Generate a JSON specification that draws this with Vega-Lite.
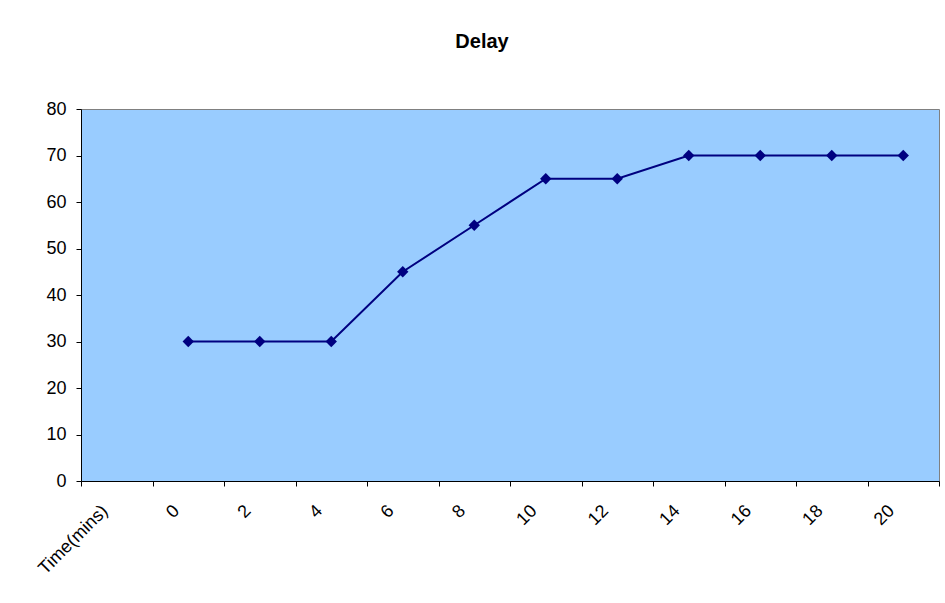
{
  "$schema": "https://vega.github.io/schema/vega-lite/v6.json",
  "width": 858,
  "height": 372,
  "autosize": {"type": "none"},
  "padding": {"left": 81, "top": 109, "right": 6, "bottom": 122},
  "background": "white",
  "title": {
    "text": "Delay",
    "font": "Liberation Sans",
    "fontSize": 20,
    "fontWeight": "bold",
    "color": "black",
    "anchor": "middle",
    "dx": -28,
    "offset": 32,
    "baseline": "alphabetic"
  },
  "data": {
    "values": [
      {"time": "0", "delay": 30},
      {"time": "2", "delay": 30},
      {"time": "4", "delay": 30},
      {"time": "6", "delay": 45},
      {"time": "8", "delay": 55},
      {"time": "10", "delay": 65},
      {"time": "12", "delay": 65},
      {"time": "14", "delay": 70},
      {"time": "16", "delay": 70},
      {"time": "18", "delay": 70},
      {"time": "20", "delay": 70}
    ]
  },
  "mark": {
    "type": "line",
    "color": "#000080",
    "strokeWidth": 2,
    "point": {"shape": "diamond", "size": 130, "filled": true, "color": "#000080", "opacity": 1}
  },
  "encoding": {
    "x": {
      "field": "time",
      "type": "ordinal",
      "sort": null,
      "bandPosition": 0.5,
      "scale": {
        "type": "band",
        "domain": ["Time(mins)", "0", "2", "4", "6", "8", "10", "12", "14", "16", "18", "20"],
        "paddingInner": 0,
        "paddingOuter": 0
      },
      "axis": {
        "title": null,
        "grid": false,
        "tickBand": "extent",
        "domainColor": "#000000",
        "domainWidth": 1,
        "tickColor": "#000000",
        "tickSize": 5,
        "labelFont": "Liberation Sans",
        "labelFontSize": 18,
        "labelColor": "#000000",
        "labelAngle": -45,
        "labelAlign": "right",
        "labelBaseline": "middle",
        "labelPadding": 22,
        "labelOffset": -12
      }
    },
    "y": {
      "field": "delay",
      "type": "quantitative",
      "scale": {"domain": [0, 80], "nice": false},
      "axis": {
        "title": null,
        "grid": false,
        "values": [0, 10, 20, 30, 40, 50, 60, 70, 80],
        "domainColor": "#000000",
        "domainWidth": 1,
        "tickColor": "#000000",
        "tickSize": 5,
        "labelFont": "Liberation Sans",
        "labelFontSize": 18,
        "labelColor": "#000000",
        "labelPadding": 10
      }
    }
  },
  "config": {
    "view": {"fill": "#99CCFF", "stroke": "#808080", "strokeWidth": 1}
  }
}
